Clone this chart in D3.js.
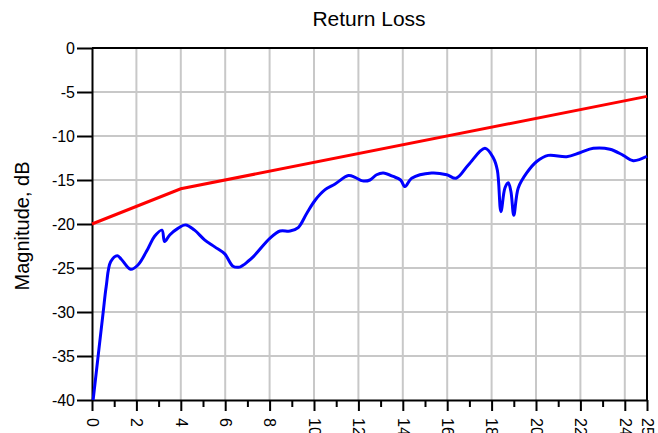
<!DOCTYPE html>
<meta charset="utf-8">
<style>
body { margin: 0; background: #fff; }
svg { display: block; font-family: "Liberation Sans", Arial, sans-serif; }
.grid line { stroke: #c8c8c8; stroke-width: 2px; }
.axis path, .axis line { stroke: #000; stroke-width: 2px; }
.axis text { font-size: 16px; fill: #000; }
</style>
<svg width="658" height="433" id="chart"></svg>
<script src="https://d3js.org/d3.v7.min.js"></script>
<script>
// measured return loss (GHz, dB)
var freq = [0.05, 0.5, 0.64, 0.84, 1.14, 1.32, 1.74, 2.07, 2.52, 2.82, 3.15, 3.27, 3.5, 3.87, 4.22,
  4.62, 5.07, 5.53, 5.98, 6.35, 6.65, 6.8, 7.0, 7.27, 8.02, 8.47, 8.92, 9.29, 9.67, 10.05, 10.5,
  10.95, 11.55, 11.85, 12.19, 12.52, 12.82, 13.12, 13.57, 13.9, 14.1, 14.4, 15.3, 15.98, 16.4,
  16.95, 17.7, 18.08, 18.26, 18.42, 18.6, 18.75, 18.87, 19.0, 19.2, 19.58, 20.03, 20.55, 21.38,
  21.98, 22.58, 23.33, 23.93, 24.38, 25.0];
var returnLoss = [-40, -30.1, -27.1, -24.3, -23.6, -24.0, -25.15, -24.66, -22.8, -21.4, -20.7, -22.0, -21.25, -20.5, -20.1,
  -20.7, -21.8, -22.6, -23.4, -24.8, -24.9, -24.7, -24.3, -23.7, -21.6, -20.8, -20.8, -20.4, -18.8, -17.3, -16.1,
  -15.45, -14.5, -14.7, -15.1, -15.0, -14.4, -14.2, -14.6, -15.0, -15.75, -14.8, -14.2, -14.4, -14.8,
  -13.3, -11.4, -12.5, -13.9, -18.6, -15.9, -15.3, -16.3, -19.0, -15.9, -14.2, -12.9, -12.2, -12.35,
  -11.9, -11.4, -11.5, -12.2, -12.8, -12.3];

// spec limit line
var limitFreq = [0, 4, 25];
var limitDb = [-20, -16, -5.5];

var xTicks = [0, 2, 4, 6, 8, 10, 12, 14, 16, 18, 20, 22, 24, 25];
var xMinor = [1, 3, 5, 7, 9, 11, 13, 15, 17, 19, 21, 23];
var yTicks = [0, -5, -10, -15, -20, -25, -30, -35, -40];

var svg = d3.select("svg#chart");
var mLeft = 92, mRight = 647, mTop = 48, mBottom = 400;

var x = d3.scaleLinear().domain([0, 25]).range([mLeft, mRight]);
var y = d3.scaleLinear().domain([-40, 0]).range([mBottom, mTop]);

// grid
var grid = svg.append("g").attr("class", "grid");
grid.selectAll("line.v")
    .data(xTicks.filter(function(d) { return d > 0 && d < 25; }))
    .enter().append("line")
      .attr("x1", function(d) { return x(d); })
      .attr("x2", function(d) { return x(d); })
      .attr("y1", mTop).attr("y2", mBottom);
grid.selectAll("line.h")
    .data(yTicks.filter(function(d) { return d > -40 && d < 0; }))
    .enter().append("line")
      .attr("x1", mLeft).attr("x2", mRight)
      .attr("y1", function(d) { return y(d); })
      .attr("y2", function(d) { return y(d); });

// frame top/right
svg.append("path")
    .attr("d", "M" + mLeft + "," + mTop + "H" + mRight + "V" + mBottom)
    .attr("fill", "none").attr("stroke", "#000").attr("stroke-width", 2);

// minor x ticks
svg.append("g").attr("class", "axis")
    .attr("transform", "translate(0," + mBottom + ")")
    .call(d3.axisBottom(x).tickValues(xMinor).tickSize(7).tickFormat(""))
    .select(".domain").remove();

// x axis
var xAxis = svg.append("g").attr("class", "axis")
    .attr("transform", "translate(0," + mBottom + ")")
    .call(d3.axisBottom(x).tickValues(xTicks).tickSize(11).tickSizeOuter(0));
xAxis.selectAll("text")
    .attr("transform", "rotate(90)")
    .attr("x", 18).attr("y", 0).attr("dy", "0.35em")
    .style("text-anchor", "start");

// y axis
svg.append("g").attr("class", "axis")
    .attr("transform", "translate(" + mLeft + ",0)")
    .call(d3.axisLeft(y).tickValues(yTicks).tickSize(15).tickPadding(2).tickSizeOuter(0)
      .tickFormat(function(d) { return d; }));

var line = d3.line()
    .x(function(d) { return x(d[0]); })
    .y(function(d) { return y(d[1]); });

svg.append("path")
    .datum(d3.zip(limitFreq, limitDb))
    .attr("fill", "none").attr("stroke", "#ff0000").attr("stroke-width", 3)
    .attr("d", line);

svg.append("path")
    .datum(d3.zip(freq, returnLoss))
    .attr("fill", "none").attr("stroke", "#0000ff").attr("stroke-width", 3)
    .attr("stroke-linejoin", "round")
    .attr("d", line.curve(d3.curveCatmullRom.alpha(0.5)));

// titles
svg.append("text")
    .attr("x", 369).attr("y", 26)
    .attr("text-anchor", "middle")
    .style("font-size", "21px")
    .text("Return Loss");

svg.append("text")
    .attr("transform", "translate(29,226) rotate(-90)")
    .attr("text-anchor", "middle")
    .style("font-size", "20px")
    .text("Magnitude, dB");
</script>
